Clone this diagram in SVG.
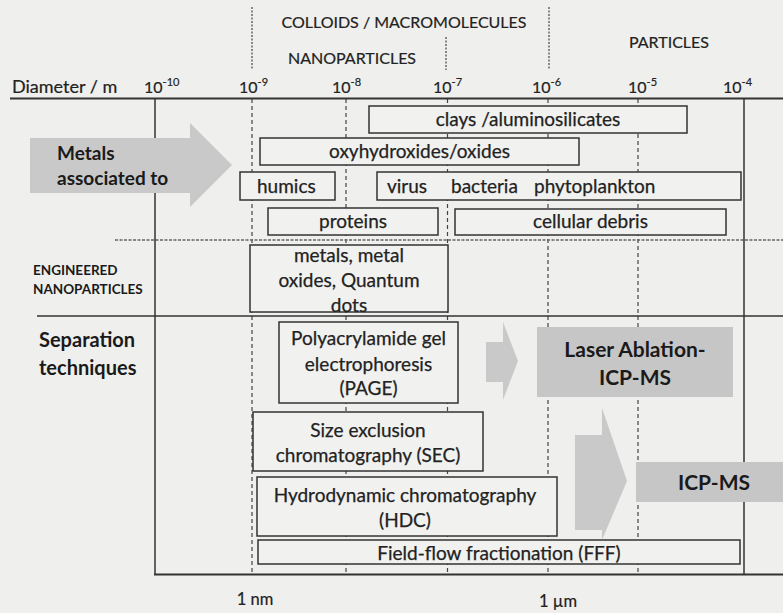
<svg xmlns="http://www.w3.org/2000/svg" width="783" height="613" viewBox="0 0 783 613">
<style>
  .bg{fill:#efefed}
  .box{fill:#f1f1ef;stroke:#333;stroke-width:1.5}
  .gbox{fill:#c6c6c6;stroke:none}
  .garrow{fill:#c9c9c9;stroke:none}
  .t{font-family:Lato,"Liberation Sans",sans-serif;font-size:19px;fill:#222;stroke:#222;stroke-width:0.25;text-anchor:middle}
  .tl{text-anchor:start}
  .b{font-family:Lato,"Liberation Sans",sans-serif;font-weight:bold;fill:#1a1a1a}
  .h{font-family:Lato,"Liberation Sans",sans-serif;font-size:16px;fill:#222;stroke:#222;stroke-width:0.2;text-anchor:middle}
  .ax{font-family:Lato,"Liberation Sans",sans-serif;font-size:16px;fill:#222;stroke:#222;stroke-width:0.2}
  .sup{font-size:11px}
  .solid{stroke:#333;fill:none}
  .dash{stroke:#444;stroke-width:1.2;stroke-dasharray:4 3;fill:none}
  .hdash{stroke:#444;stroke-width:1.2;stroke-dasharray:2 1.5;fill:none}
</style>
<rect class="bg" x="0" y="0" width="783" height="613"/>

<g id="header">
  <line class="hdash" x1="252" y1="7" x2="252" y2="70"/>
  <line class="hdash" x1="446" y1="37" x2="446" y2="70"/>
  <line class="hdash" x1="549" y1="7" x2="549" y2="70"/>
  <text class="h" x="404" y="27.5">COLLOIDS / MACROMOLECULES</text>
  <text class="h" x="352" y="63.5">NANOPARTICLES</text>
  <text class="h" x="669" y="47.5">PARTICLES</text>
</g>

<g id="axis">
  <text class="ax" x="12" y="93" style="font-size:18px">Diameter / m</text>
  <text class="ax" x="144" y="93">10<tspan class="sup" dy="-7">-10</tspan></text>
  <text class="ax" x="239" y="93">10<tspan class="sup" dy="-7">-9</tspan></text>
  <text class="ax" x="332" y="93">10<tspan class="sup" dy="-7">-8</tspan></text>
  <text class="ax" x="433" y="93">10<tspan class="sup" dy="-7">-7</tspan></text>
  <text class="ax" x="532" y="93">10<tspan class="sup" dy="-7">-6</tspan></text>
  <text class="ax" x="628" y="93">10<tspan class="sup" dy="-7">-5</tspan></text>
  <text class="ax" x="723" y="93">10<tspan class="sup" dy="-7">-4</tspan></text>
  <text class="ax" x="255" y="605" text-anchor="middle" style="font-size:16.5px">1 nm</text>
  <text class="ax" x="558" y="607" text-anchor="middle" style="font-size:16.5px">1 µm</text>
</g>

<g id="grid">
  <line class="dash" x1="252" y1="99" x2="252" y2="574"/>
  <line class="dash" x1="346" y1="99" x2="346" y2="574"/>
  <line class="dash" x1="447.5" y1="99" x2="447.5" y2="574"/>
  <line class="dash" x1="548" y1="99" x2="548" y2="574"/>
  <line class="dash" x1="638" y1="99" x2="638" y2="574"/>
  <line x1="115" y1="240" x2="783" y2="240" stroke="#666" stroke-width="1.6" stroke-dasharray="3 1.5"/>
  <line class="solid" x1="37" y1="316" x2="783" y2="316" stroke-width="1.5"/>
  <line class="solid" x1="155" y1="98" x2="155" y2="575" stroke-width="1.5"/>
  <line class="solid" x1="744" y1="98" x2="744" y2="575" stroke-width="1.5"/>
  <line class="solid" x1="154" y1="574.5" x2="783" y2="574.5" stroke-width="2"/>
  <line class="solid" x1="10" y1="98.5" x2="783" y2="98.5" stroke-width="2"/>
</g>

<g id="metals-associated">
  <polygon class="garrow" points="30,138 190,138 190,123 232,165 190,207 190,193 30,193"/>
  <text class="b" x="57" y="160" style="font-size:19px">Metals</text>
  <text class="b" x="57" y="185" style="font-size:19px">associated to</text>
</g>

<g id="engineered-label">
  <text class="b" x="33" y="275" style="font-size:13.5px">ENGINEERED</text>
  <text class="b" x="33" y="294" style="font-size:13.5px">NANOPARTICLES</text>
</g>

<g id="separation-label">
  <text class="b" x="39" y="347" style="font-size:20px">Separation</text>
  <text class="b" x="39" y="375" style="font-size:20px">techniques</text>
</g>

<g id="clays">
  <rect class="box" x="369" y="106" width="318" height="27"/>
  <text class="t" x="528" y="126">clays /aluminosilicates</text>
</g>
<g id="oxyhydroxides">
  <rect class="box" x="260" y="138" width="319" height="27"/>
  <text class="t" x="419.5" y="158">oxyhydroxides/oxides</text>
</g>
<g id="humics">
  <rect class="box" x="240" y="172" width="95" height="28"/>
  <text class="t tl" x="257" y="192.5">humics</text>
</g>
<g id="biota">
  <rect class="box" x="377" y="172" width="364" height="28"/>
  <text class="t tl" x="387" y="192.5">virus</text>
  <text class="t tl" x="451" y="192.5">bacteria</text>
  <text class="t tl" x="534" y="192.5">phytoplankton</text>
</g>
<g id="proteins">
  <rect class="box" x="268" y="208" width="170" height="27"/>
  <text class="t" x="353" y="228">proteins</text>
</g>
<g id="cellular-debris">
  <rect class="box" x="455" y="209" width="271" height="26"/>
  <text class="t" x="590.5" y="228">cellular debris</text>
</g>
<g id="engineered-np">
  <rect class="box" x="250" y="245" width="198" height="67"/>
  <text class="t" x="349" y="261.5">metals, metal</text>
  <text class="t" x="349" y="286.5">oxides, Quantum</text>
  <text class="t" x="349" y="311.5">dots</text>
</g>

<g id="page">
  <rect class="box" x="279" y="322" width="179" height="81"/>
  <text class="t" x="368.5" y="344.5">Polyacrylamide gel</text>
  <text class="t" x="368.5" y="370.5">electrophoresis</text>
  <text class="t" x="368.5" y="395">(PAGE)</text>
</g>
<g id="sec">
  <rect class="box" x="253" y="412" width="230" height="59"/>
  <text class="t" x="368" y="436.5">Size exclusion</text>
  <text class="t" x="368" y="461.5">chromatography (SEC)</text>
</g>
<g id="hdc">
  <rect class="box" x="257" y="477" width="300" height="59"/>
  <text class="t" x="405" y="501.5">Hydrodynamic chromatography</text>
  <text class="t" x="405" y="526.5">(HDC)</text>
</g>
<g id="fff">
  <rect class="box" x="258" y="540" width="482" height="24"/>
  <text class="t" x="499" y="559.5">Field-flow fractionation (FFF)</text>
</g>

<g id="la-icpms">
  <rect class="gbox" x="537" y="327" width="196" height="70"/>
  <text class="b" x="635" y="357" text-anchor="middle" style="font-size:21px">Laser Ablation-</text>
  <text class="b" x="635" y="385" text-anchor="middle" style="font-size:21px">ICP-MS</text>
</g>
<g id="icpms">
  <rect class="gbox" x="636" y="462" width="147" height="40"/>
  <text class="b" x="714" y="490" text-anchor="middle" style="font-size:21px">ICP-MS</text>
</g>

<g id="connectors">
  <polygon class="garrow" points="486,342 503,342 503,322 518,361 503,400 503,382 486,382"/>
  <polygon class="garrow" points="575,435 602,435 602,408 627,481 602,540 602,530 575,530"/>
</g>
</svg>
